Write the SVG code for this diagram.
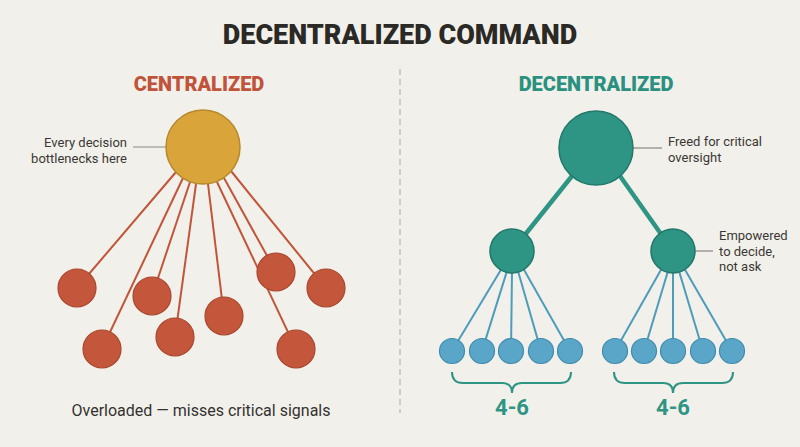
<svg xmlns="http://www.w3.org/2000/svg" width="800" height="447" viewBox="0 0 800 447">
<style>
.t{font-family:Roboto,"Liberation Sans",sans-serif}
.title{font-size:27px;font-weight:900;fill:#2b2925}
.sub{font-size:20px;font-weight:900}
.lbl{font-size:13px;fill:#3a3835}
.note{font-size:16px;fill:#333230}
.num{font-size:22px;font-weight:bold;fill:#2e9484}
.red{fill:#c4573b;stroke:#a8462e;stroke-width:1.2}
.blue{fill:#5aa6c9;stroke:#3f8bad;stroke-width:1.2}
.teal{fill:#2e9484;stroke:#22786a;stroke-width:1.5}
.rl{stroke:#c0553a;stroke-width:2;fill:none}
.bl{stroke:#4d9cba;stroke-width:2;fill:none}
.tl{stroke:#2e9484;stroke-width:4.5;fill:none}
.lead{stroke:#8a8884;stroke-width:1.2;fill:none}
</style>
<rect width="800" height="447" fill="#f2f0ea"/>
<text class="t title" x="400" y="44" text-anchor="middle">DECENTRALIZED COMMAND</text>
<line x1="400" y1="69" x2="400" y2="413" stroke="#c4c1bb" stroke-width="1.5" stroke-dasharray="6,4"/>
<text class="t sub" x="199" y="91" text-anchor="middle" fill="#c0533a">CENTRALIZED</text>
<text class="t sub" x="596" y="91" text-anchor="middle" fill="#2a9080">DECENTRALIZED</text>
<g id="connectors">
<line class="rl" x1="176" y1="172" x2="77" y2="288"/>
<line class="rl" x1="183" y1="178" x2="102" y2="349"/>
<line class="rl" x1="190" y1="182" x2="152" y2="296"/>
<line class="rl" x1="196" y1="184" x2="175" y2="337"/>
<line class="rl" x1="208" y1="184" x2="224" y2="316"/>
<line class="rl" x1="217" y1="182" x2="296" y2="349"/>
<line class="rl" x1="224" y1="178" x2="276" y2="272"/>
<line class="rl" x1="231" y1="171" x2="326" y2="288"/>
<line class="lead" x1="133" y1="147" x2="167" y2="147"/>
<line class="tl" x1="572" y1="176" x2="512" y2="251"/>
<line class="tl" x1="620" y1="176" x2="673" y2="251"/>
<line class="lead" x1="633" y1="148" x2="662" y2="148"/>
<line class="lead" x1="695" y1="251" x2="713" y2="251"/>
<line class="bl" x1="502" y1="268" x2="452" y2="351"/>
<line class="bl" x1="507" y1="271" x2="482" y2="351"/>
<line class="bl" x1="512" y1="272" x2="511" y2="351"/>
<line class="bl" x1="518" y1="271" x2="541" y2="351"/>
<line class="bl" x1="523" y1="268" x2="570" y2="351"/>
<line class="bl" x1="662" y1="268" x2="615" y2="351"/>
<line class="bl" x1="668" y1="271" x2="644" y2="351"/>
<line class="bl" x1="673" y1="272" x2="673" y2="351"/>
<line class="bl" x1="679" y1="271" x2="703" y2="351"/>
<line class="bl" x1="684" y1="268" x2="732" y2="351"/>
<path d="M452 372 Q452 383 463 383 L502 383 Q512 383 512 393 Q512 383 522 383 L560 383 Q571 383 571 372" stroke="#2e9484" stroke-width="2" fill="none"/>
<path d="M614 372 Q614 383 625 383 L663 383 Q673 383 673 393 Q673 383 683 383 L722 383 Q733 383 733 372" stroke="#2e9484" stroke-width="2" fill="none"/>
</g>
<g id="hub"><circle cx="203" cy="147" r="37" fill="#d9a53b" stroke="#b8892b" stroke-width="1.5"/></g>
<g id="hub-label"><text class="t lbl" x="127" y="147" text-anchor="end">Every decision</text><text class="t lbl" x="127" y="163" text-anchor="end">bottlenecks here</text></g>
<g id="r1"><circle class="red" cx="77" cy="288" r="19"/></g>
<g id="r2"><circle class="red" cx="102" cy="349" r="19"/></g>
<g id="r3"><circle class="red" cx="152" cy="296" r="19"/></g>
<g id="r4"><circle class="red" cx="175" cy="337" r="19"/></g>
<g id="r5"><circle class="red" cx="224" cy="316" r="19"/></g>
<g id="r6"><circle class="red" cx="276" cy="272" r="19"/></g>
<g id="r7"><circle class="red" cx="326" cy="288" r="19"/></g>
<g id="r8"><circle class="red" cx="296" cy="349" r="19"/></g>
<text class="t note" x="201" y="416" text-anchor="middle">Overloaded — misses critical signals</text>
<g id="top"><circle class="teal" cx="596" cy="148" r="37"/></g>
<g id="top-label"><text class="t lbl" x="668" y="146">Freed for critical</text><text class="t lbl" x="668" y="162">oversight</text></g>
<g id="midL"><circle class="teal" cx="512" cy="251" r="22"/></g>
<g id="midR"><circle class="teal" cx="673" cy="251" r="22"/></g>
<g id="mid-label"><text class="t lbl" x="719" y="240">Empowered</text><text class="t lbl" x="719" y="256">to decide,</text><text class="t lbl" x="719" y="271">not ask</text></g>
<g id="b1"><circle class="blue" cx="452" cy="351" r="12.5"/></g>
<g id="b2"><circle class="blue" cx="482" cy="351" r="12.5"/></g>
<g id="b3"><circle class="blue" cx="511" cy="351" r="12.5"/></g>
<g id="b4"><circle class="blue" cx="541" cy="351" r="12.5"/></g>
<g id="b5"><circle class="blue" cx="570" cy="351" r="12.5"/></g>
<g id="b6"><circle class="blue" cx="615" cy="351" r="12.5"/></g>
<g id="b7"><circle class="blue" cx="644" cy="351" r="12.5"/></g>
<g id="b8"><circle class="blue" cx="673" cy="351" r="12.5"/></g>
<g id="b9"><circle class="blue" cx="703" cy="351" r="12.5"/></g>
<g id="b10"><circle class="blue" cx="732" cy="351" r="12.5"/></g>
<text class="t num" x="512" y="415" text-anchor="middle">4-6</text>
<text class="t num" x="673" y="415" text-anchor="middle">4-6</text>
</svg>
